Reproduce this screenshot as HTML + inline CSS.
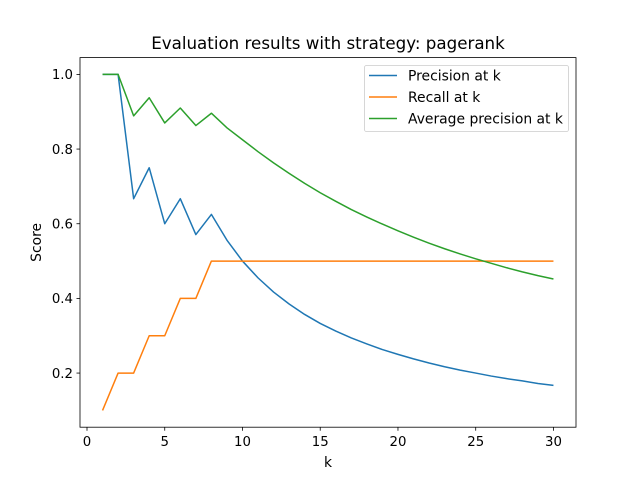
<!DOCTYPE html>
<html><head><meta charset="utf-8"><style>
body{margin:0;background:#fff}
svg text{font-family:"DejaVu Sans","Liberation Sans",sans-serif;fill:#000}
</style></head><body>
<svg id="chart" width="640" height="480" xmlns="http://www.w3.org/2000/svg">
<rect width="640" height="480" fill="#fff"/>
<text x="328" y="49" text-anchor="middle" font-size="16.7">Evaluation results with strategy: pagerank</text>
<g id="plot"></g>
<text x="328" y="467" text-anchor="middle" font-size="13.9">k</text>
<text transform="translate(41,242.4) rotate(-90)" text-anchor="middle" font-size="13.9">Score</text>
</svg>
<script>
const ks = [1,2,3,4,5,6,7,8,9,10,11,12,13,14,15,16,17,18,19,20,21,22,23,24,25,26,27,28,29,30];
const precision = [1,1,.667,.75,.6,.667,.571,.625,.556,.5,.455,.417,.385,.357,.333,.3125,.294,.278,.263,.25,.238,.227,.217,.208,.2,.192,.185,.179,.172,.167];
const recall = [.1,.2,.2,.3,.3,.4,.4,.5,.5,.5,.5,.5,.5,.5,.5,.5,.5,.5,.5,.5,.5,.5,.5,.5,.5,.5,.5,.5,.5,.5];
const avgPrecision = [1,1,.889,.9375,.87,.91,.863,.896,.857,.825,.793,.763,.735,.708,.683,.66,.638,.618,.599,.581,.564,.548,.533,.519,.506,.494,.482,.471,.461,.452];
const xTicks = [0,5,10,15,20,25,30];
const yTicks = [0.2,0.4,0.6,0.8,1.0];
const seriesNames = ["Precision at k","Recall at k","Average precision at k"];
const colors = ["#1f77b4","#ff7f0e","#2ca02c"];

const L=80,R=576,T=57.6,B=427.2;
const xmin=-0.45,xmax=31.45,ymin=0.055,ymax=1.045;
const sx=v=>L+(v-xmin)/(xmax-xmin)*(R-L);
const sy=v=>B-(v-ymin)/(ymax-ymin)*(B-T);
const NS="http://www.w3.org/2000/svg";
const g=document.getElementById('plot');
function mk(t,a){const e=document.createElementNS(NS,t);for(const k in a)e.setAttribute(k,a[k]);g.appendChild(e);return e;}

[precision,recall,avgPrecision].forEach((s,i)=>{
  const p=mk('polyline',{points:s.map((v,j)=>sx(ks[j])+','+sy(v)).join(' '),fill:'none',stroke:colors[i],'stroke-width':1.5,'stroke-linejoin':'round'});
  
  
});

const frame=mk('rect',{x:L,y:T,width:R-L,height:B-T,fill:'none',stroke:'#000','stroke-width':0.8});



xTicks.forEach(v=>{
  mk('line',{x1:sx(v),x2:sx(v),y1:B,y2:B+3.5,stroke:'#000','stroke-width':0.8});
  const t=mk('text',{x:sx(v),y:B+19,'text-anchor':'middle','font-size':13.3});
  t.textContent=v;
  
  
});
yTicks.forEach(v=>{
  mk('line',{x1:L-3.5,x2:L,y1:sy(v),y2:sy(v),stroke:'#000','stroke-width':0.8});
  const t=mk('text',{x:L-7,y:sy(v)+4.8,'text-anchor':'end','font-size':13.3});
  t.textContent=v.toFixed(1);
  
  
});

const lg=mk('rect',{x:364.5,y:65.5,width:204,height:66,rx:2,fill:'#fff','fill-opacity':0.8,stroke:'#ccc','stroke-width':0.8});


seriesNames.forEach((n,i)=>{
  const y=75.5+i*21.5;
  mk('line',{x1:369,x2:397,y1:y,y2:y,stroke:colors[i],'stroke-width':1.5});
  const t=mk('text',{x:408,y:y+5,'font-size':13.9});
  t.textContent=n;
  
  
});
</script>
</body></html>
